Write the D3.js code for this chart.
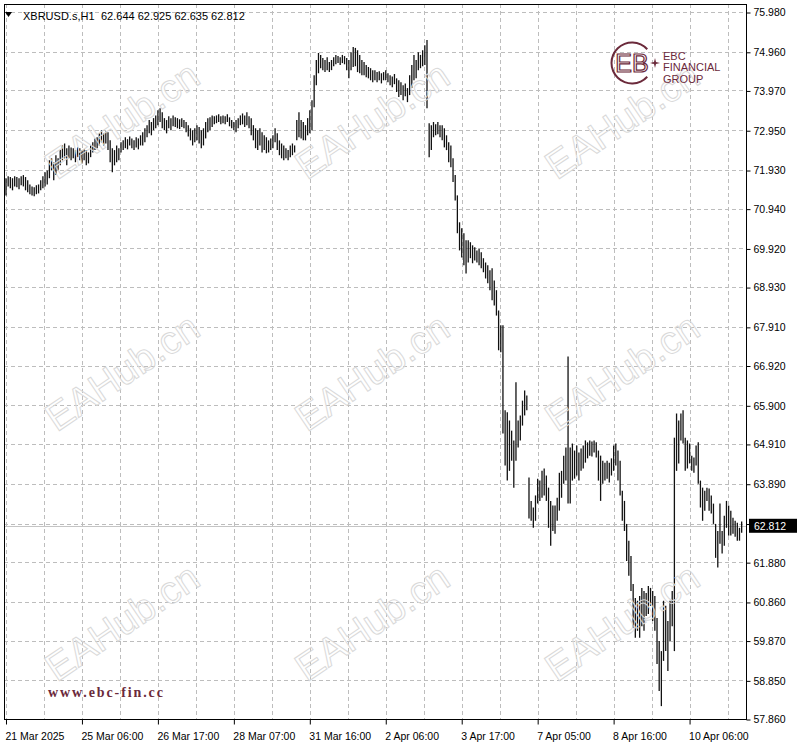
<!DOCTYPE html>
<html>
<head>
<meta charset="utf-8">
<script src="https://cdn.jsdelivr.net/npm/d3@7"></script>
<style>
body { margin: 0; background: #fff; }
svg { display: block; font-family: "Liberation Sans", Arial, sans-serif; }
</style>
</head>
<body>
<div id="chart"></div>
<script>
// header values (last bar O H L C)
var symbol = "XBRUSD.s,H1";
var lastOHLC = ["62.644", "62.925", "62.635", "62.812"];
var lastPrice = 62.812;

// price axis grid levels; 62.870 sits under the price tag so it gets no label
var yTicks = [75.980, 74.960, 73.970, 72.950, 71.930, 70.940, 69.920, 68.930, 67.910,
              66.920, 65.900, 64.910, 63.890, 62.870, 61.880, 60.860, 59.870, 58.850, 57.860];
var hiddenTick = 62.870;

// time axis labels and the bar they sit on
var xLabels = ["21 Mar 2025", "25 Mar 06:00", "26 Mar 17:00", "28 Mar 07:00", "31 Mar 16:00",
               "2 Apr 06:00", "3 Apr 17:00", "7 Apr 05:00", "8 Apr 16:00", "10 Apr 06:00"];
var xLabelBars = [0, 35, 70, 105, 140, 175, 210, 245, 280, 315];

// hourly highs
var highs = [
71.72,71.77,71.75,71.72,71.77,71.75,71.72,71.77,71.80,71.75,
71.67,71.56,71.51,71.49,71.54,71.56,71.67,71.77,71.87,71.92,
72.18,72.23,72.13,72.31,72.23,72.44,72.56,72.61,72.49,72.56,
72.51,72.49,72.44,72.51,72.49,72.44,72.46,72.44,72.38,72.56,
72.64,72.74,72.77,72.87,72.95,72.87,72.92,72.90,72.69,72.49,
72.44,72.56,72.49,72.64,72.69,72.77,72.72,72.79,72.74,72.69,
72.77,72.74,72.82,72.90,73.00,73.08,73.21,73.16,73.26,73.33,
73.46,73.51,73.41,73.26,73.21,73.31,73.26,73.33,73.28,73.26,
73.23,73.26,73.21,73.16,73.08,73.00,72.95,73.00,73.08,73.03,
72.95,73.00,73.16,73.26,73.28,73.33,73.31,73.33,73.36,73.31,
73.33,73.31,73.36,73.28,73.21,73.16,73.21,73.26,73.33,73.38,
73.33,73.41,73.31,73.26,73.08,73.00,72.95,73.00,72.90,72.82,
72.77,72.69,72.74,72.82,73.00,72.87,72.69,72.61,72.56,72.49,
72.44,72.56,72.61,72.56,73.21,73.41,73.21,73.16,73.08,73.26,
73.46,73.72,74.36,74.75,74.93,74.88,74.80,74.75,74.82,74.70,
74.75,74.82,74.88,74.85,74.82,74.88,74.85,74.80,74.75,74.95,
75.08,75.06,75.00,74.88,74.75,74.70,74.62,74.57,74.54,74.49,
74.49,74.44,74.46,74.41,74.44,74.49,74.41,74.36,74.33,74.39,
74.28,74.23,74.18,74.10,74.15,74.03,74.36,74.62,74.88,74.75,
74.95,74.88,75.00,75.13,75.26,73.13,73.08,73.16,73.10,73.16,
73.08,73.08,73.00,72.82,72.64,72.56,72.23,71.80,71.28,70.59,
70.44,70.31,70.13,70.13,70.08,70.00,69.95,69.87,69.92,69.82,
69.67,69.56,69.49,69.36,69.41,69.10,68.85,68.33,67.95,67.95,
65.77,65.72,65.51,65.25,65.00,66.49,65.51,65.64,66.02,66.28,
66.15,64.05,63.45,63.28,63.59,64.02,63.97,64.22,64.28,64.10,
63.79,63.45,63.33,63.33,63.53,64.17,64.22,64.61,64.82,67.15,
64.82,64.92,64.74,64.87,64.69,64.79,64.87,65.00,64.95,65.00,
64.97,65.00,64.95,64.74,64.61,64.48,64.43,64.48,64.43,64.54,
64.87,64.92,64.74,64.48,63.71,63.45,62.86,62.43,62.04,61.32,
60.96,60.89,61.01,61.22,61.14,61.09,61.27,61.22,61.14,61.01,
60.45,59.86,59.60,60.89,60.76,60.37,60.89,61.14,65.07,65.69,
65.51,65.69,65.77,65.07,65.00,64.92,64.61,64.56,64.87,64.95,
63.97,63.79,63.71,63.79,63.77,63.59,63.38,62.86,62.68,63.38,
62.68,63.07,63.45,63.33,63.20,63.02,62.94,62.89,62.76,62.925
];

// hourly lows
var lows = [
71.28,71.51,71.46,71.41,71.51,71.49,71.44,71.54,71.51,71.41,
71.36,71.31,71.28,71.26,71.31,71.33,71.41,71.46,71.51,71.56,
71.72,71.92,71.67,71.80,71.92,72.05,72.18,72.23,72.05,72.23,
72.18,72.23,72.13,72.26,72.18,72.10,72.18,72.05,72.10,72.26,
72.38,72.44,72.49,72.56,72.64,72.56,72.61,72.44,72.13,71.87,
72.05,72.13,72.18,72.38,72.44,72.49,72.46,72.56,72.49,72.44,
72.51,72.46,72.56,72.56,72.64,72.77,72.87,72.82,72.95,73.00,
73.08,73.16,73.00,72.95,72.87,73.00,72.95,73.05,73.03,73.00,
72.98,73.03,73.00,72.90,72.79,72.69,72.56,72.64,72.69,72.61,
72.49,72.56,72.74,72.90,72.95,73.03,73.10,73.13,73.16,73.10,
73.13,73.10,73.16,73.05,73.00,72.95,72.90,73.00,73.08,73.10,
73.03,73.08,73.00,72.82,72.69,72.49,72.44,72.56,72.38,72.44,
72.36,72.38,72.44,72.49,72.64,72.44,72.31,72.23,72.18,72.23,
72.18,72.26,72.31,72.38,72.69,72.77,72.74,72.69,72.69,72.82,
72.87,72.95,73.54,74.10,74.41,74.54,74.49,74.44,74.49,74.44,
74.49,74.59,74.64,74.67,74.62,74.67,74.64,74.49,74.28,74.49,
74.57,74.59,74.44,74.41,74.36,74.36,74.31,74.28,74.23,74.18,
74.23,74.18,74.23,74.15,74.23,74.23,74.18,74.10,74.05,74.13,
73.93,73.80,73.85,73.72,73.82,73.67,73.85,74.03,74.23,74.28,
74.49,74.54,74.59,74.62,73.51,72.26,72.44,72.77,72.82,72.85,
72.77,72.69,72.51,72.44,72.13,72.00,71.62,71.15,70.31,69.87,
69.69,69.49,69.28,69.56,69.67,69.54,69.61,69.56,69.49,69.41,
69.31,69.15,69.03,68.85,68.59,68.46,68.20,67.31,67.26,65.18,
64.36,63.97,64.22,64.48,63.79,64.48,64.82,65.00,65.38,65.64,
65.77,63.00,62.94,62.76,62.94,63.38,63.45,63.53,63.59,63.45,
62.76,62.30,62.68,62.61,62.94,63.20,63.53,63.89,63.97,63.38,
63.38,63.97,64.02,64.10,63.97,64.22,64.28,64.43,64.54,64.61,
64.59,64.69,64.56,63.97,63.45,63.89,63.97,64.02,63.92,64.10,
64.22,64.36,63.97,63.59,62.94,62.68,61.91,61.53,61.14,60.19,
59.94,60.12,59.94,60.24,60.12,60.50,60.55,60.76,60.37,60.12,
59.27,58.58,58.19,59.35,59.60,59.09,59.86,60.24,59.60,64.22,
64.41,65.00,64.92,64.22,64.28,64.41,64.22,64.17,64.36,63.89,
63.28,62.94,63.20,63.45,63.20,63.13,62.86,61.99,61.74,62.35,
62.10,62.30,62.76,62.56,62.56,62.61,62.53,62.43,62.43,62.635
];

// watermark spots and logo text
var watermarkCols = [122, 372, 622];
var watermarkRows = [120, 372, 622];
var logoLines = ["EBC", "FINANCIAL", "GROUP"];
var siteText = "www.ebc-fin.cc";

var width = 800, height = 747;
var plot = {left: 4, top: 4, right: 746, bottom: 719};
var maroon = "#6b2a3b";

var bars = highs.map(function (h, i) { return {i: i, high: h, low: lows[i]}; });

var svg = d3.select("#chart").append("svg")
    .attr("width", width)
    .attr("height", height);

var xScale = d3.scaleLinear()
    .domain([-0.92, 341])
    .range([plot.left, plot.right]);
var yScale = d3.scaleLinear()
    .domain([57.86, 75.98])
    .range([719, 12]);

// clip for plot area
svg.append("clipPath").attr("id", "plotclip")
  .append("rect")
    .attr("x", plot.left).attr("y", plot.top)
    .attr("width", plot.right - plot.left).attr("height", plot.bottom - plot.top);

var grid = svg.append("g").attr("clip-path", "url(#plotclip)");

// horizontal grid
grid.selectAll("line.hgrid")
    .data(yTicks)
    .enter().append("line")
    .attr("class", "hgrid")
    .attr("x1", plot.left).attr("x2", plot.right)
    .attr("y1", function (d) { return Math.round(yScale(d)) + 0.5; })
    .attr("y2", function (d) { return Math.round(yScale(d)) + 0.5; })
    .attr("stroke", "#bdbdbd")
    .attr("stroke-dasharray", "4,3");

// vertical grid, at each label and half way between
var vGrid = d3.range(0, 340, 17.5);
grid.selectAll("line.vgrid")
    .data(vGrid)
    .enter().append("line")
    .attr("class", "vgrid")
    .attr("y1", plot.top).attr("y2", plot.bottom)
    .attr("x1", function (d) { return Math.round(xScale(d)) + 0.5; })
    .attr("x2", function (d) { return Math.round(xScale(d)) + 0.5; })
    .attr("stroke", "#bdbdbd")
    .attr("stroke-dasharray", "4,3");

// bid line
grid.append("line")
    .attr("x1", plot.left).attr("x2", plot.right)
    .attr("y1", Math.round(yScale(lastPrice)) + 0.5)
    .attr("y2", Math.round(yScale(lastPrice)) + 0.5)
    .attr("stroke", "#c4c4c4");

// watermarks
var wm = svg.append("g");
watermarkRows.forEach(function (wy) {
  watermarkCols.forEach(function (wx) {
    wm.append("text")
      .attr("transform", "translate(" + wx + "," + wy + ") rotate(-34)")
      .attr("text-anchor", "middle")
      .attr("dy", "0.35em")
      .style("font-size", "39px")
      .style("fill", "none")
      .style("stroke", "#d9d9d9")
      .style("stroke-width", 1)
      .text("EAHub.cn");
  });
});

// bars
grid.selectAll("line.bar")
    .data(bars)
    .enter().append("line")
    .attr("class", "bar")
    .attr("x1", function (d) { return xScale(d.i); })
    .attr("x2", function (d) { return xScale(d.i); })
    .attr("y1", function (d) { return yScale(d.high); })
    .attr("y2", function (d) { return yScale(d.low); })
    .attr("stroke", "#111")
    .attr("stroke-width", 1.3);

// frame
svg.append("rect")
    .attr("x", plot.left + 0.5).attr("y", plot.top + 0.5)
    .attr("width", plot.right - plot.left).attr("height", plot.bottom - plot.top)
    .attr("fill", "none")
    .attr("stroke", "#000");

// price axis
var yAxis = svg.append("g")
    .attr("transform", "translate(" + (plot.right + 0.5) + ",0.5)")
    .call(d3.axisRight(yScale).tickValues(yTicks).tickSize(4)
      .tickFormat(function (d) { return d === hiddenTick ? "" : d3.format(".3f")(d); }));
yAxis.select(".domain").remove();
yAxis.selectAll("line").attr("stroke", "#000");
yAxis.selectAll("text")
    .attr("x", 7)
    .style("font-size", "10.5px")
    .style("fill", "#000");

// time axis
var xAxis = svg.append("g")
    .attr("transform", "translate(0," + (plot.bottom + 0.5) + ")")
    .call(d3.axisBottom(xScale).tickValues(xLabelBars).tickSize(5)
      .tickFormat(function (d, i) { return xLabels[i]; }));
xAxis.select(".domain").remove();
xAxis.selectAll("line").attr("stroke", "#000");
xAxis.selectAll("text")
    .attr("text-anchor", "start")
    .attr("x", -1)
    .attr("y", 20)
    .attr("dy", 0)
    .style("font-size", "10.5px")
    .style("fill", "#000");

// current price tag
var py = yScale(lastPrice);
svg.append("rect")
    .attr("x", 749).attr("y", py - 7)
    .attr("width", 48).attr("height", 14)
    .attr("fill", "#000");
svg.append("text")
    .attr("x", 754).attr("y", py + 4)
    .style("font-size", "10.5px")
    .style("fill", "#fff")
    .text(d3.format(".3f")(lastPrice));

// header
svg.append("path")
    .attr("d", "M5,12 L12,12 L8.5,17 Z")
    .attr("fill", "#000");
svg.append("text")
    .attr("x", 23).attr("y", 20)
    .style("font-size", "11px")
    .text(symbol);
svg.append("text")
    .attr("x", 101).attr("y", 20)
    .style("font-size", "11px")
    .text(lastOHLC.join(" "));

// logo
var logo = svg.append("g").attr("transform", "translate(632,63)");
logo.append("path")
    .attr("d", d3.arc().innerRadius(19.5).outerRadius(21.5)
      .startAngle(132 * Math.PI / 180).endAngle(408 * Math.PI / 180)())
    .attr("fill", maroon);
logo.append("text")
    .attr("text-anchor", "middle")
    .attr("y", 9)
    .style("font-size", "25px")
    .style("fill", "none")
    .style("stroke", maroon)
    .style("stroke-width", 1.2)
    .text("EB");
logo.append("path")
    .attr("d", "M23,-5 L24,-1 L28,0 L24,1 L23,5 L22,1 L18,0 L22,-1 Z")
    .attr("fill", maroon);
logo.selectAll("text.logoline")
    .data(logoLines)
    .enter().append("text")
    .attr("class", "logoline")
    .attr("x", 31)
    .attr("y", function (d, i) { return -3.5 + i * 11.5; })
    .style("font-size", "11px")
    .style("fill", maroon)
    .text(function (d) { return d; });

// site text
svg.append("text")
    .attr("x", 48).attr("y", 697)
    .style("font-family", "'Liberation Serif', serif")
    .style("font-weight", "bold")
    .style("font-size", "14px")
    .style("letter-spacing", "1.9px")
    .style("fill", maroon)
    .text(siteText);
</script>
</body>
</html>
